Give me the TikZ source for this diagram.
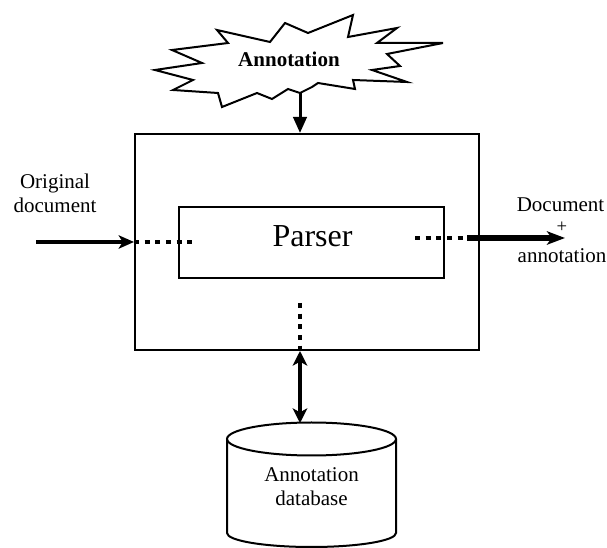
\documentclass[tikz,border=0pt]{standalone}
\usepackage{fontspec}
\setmainfont{Liberation Serif}
\usetikzlibrary{arrows.meta}
\begin{document}
\begin{tikzpicture}[x=0.75pt,y=-0.75pt,
  frame/.style={draw, line width=1.5pt, inner sep=0pt},
  dotline/.style={line width=3pt, dash pattern=on 3.75pt off 4.25pt},
  fatarrow/.style={line width=3.4pt, -{Stealth[length=11.5pt,width=10pt,inset=3pt]}},
  lbl/.style={font=\fontsize{15.75}{18}\selectfont, anchor=base, inner sep=0pt}
]
\useasboundingbox (0,0) rectangle (607,548);

% outer box and parser
\node[frame, minimum width=258pt, minimum height=162pt] (outer) at (307,242) {};
\node[frame, minimum width=198.75pt, minimum height=53.25pt] (parser) at (311.5,242.5) {};
\node[anchor=base, inner sep=0pt, font=\fontsize{24}{28}\selectfont] (parserlabel) at (312.5,247) {Parser};

% star
\draw[line width=1.5pt, fill=white] (155,70) -- (202,63) -- (172,50) -- (228,43) -- (217,30)
  -- (270,42) -- (285,23) -- (308,33) -- (353,15) -- (348,37) -- (397,28) -- (377,43)
  -- (443,43) -- (387,54) -- (400,66) -- (372,70) -- (407,82) -- (353,80) -- (355,89)
  -- (318,83) -- (312,87) -- (300,93) -- (288,89) -- (272,99) -- (257,93) -- (222,107)
  -- (218,93) -- (173,90) -- (193,80) -- cycle;
\node[anchor=base, inner sep=0pt, font=\fontsize{15.75}{18}\selectfont\bfseries] (annot) at (289,67) {Annotation};
\coordinate (starbot) at (300,93);
\draw[line width=2.25pt, -{Triangle[length=12pt,width=10pt]}] (starbot) -- (starbot |- outer.north);

% input
\node[lbl] (orig1) at (55,189) {Original};
\node[lbl] (orig2) at (55,213) {document};
\coordinate (inL) at (36,242);
\coordinate (inDots) at (195,242);
\draw[fatarrow] (inL) -- (inL -| outer.west);
\draw[dotline] (inL -| outer.west) -- (inDots);

% output
\coordinate (outDots) at (415,238);
\coordinate (outSolid) at (467,238);
\coordinate (outEnd) at (565,238);
\draw[dotline] (outDots) -- (outSolid);
\draw[line width=4pt, -{Stealth[length=13.5pt,width=10pt,inset=3.5pt]}] (outSolid) -- (outEnd);
\node[lbl] (doc1) at (560.5,212) {Document};
\node[inner sep=0pt, font=\fontsize{14}{16}\selectfont] (plus) at (562,227) {+};
\node[lbl] (doc2) at (562,263) {annotation};

% database
\draw[line width=1.5pt, fill=white] (227,439) -- (227,533)
  arc[start angle=180, end angle=360, x radius=63.375pt, y radius=10.5pt] -- (396,439);
\draw[line width=1.5pt] (311.5,439) ellipse[x radius=63.375pt, y radius=12.375pt];
\node[lbl] (db1) at (311.5,482) {Annotation};
\node[lbl] (db2) at (311.5,506) {database};
\coordinate (dbtop) at (300,423);
\coordinate (vdots) at (300,303);
\draw[dotline] (vdots) -- (vdots |- outer.south);
\draw[line width=3pt, {Stealth[length=11pt,width=11pt,inset=3pt]}-{Stealth[length=11pt,width=11pt,inset=3pt]}] (dbtop |- outer.south) -- (dbtop);
\end{tikzpicture}
\end{document}
